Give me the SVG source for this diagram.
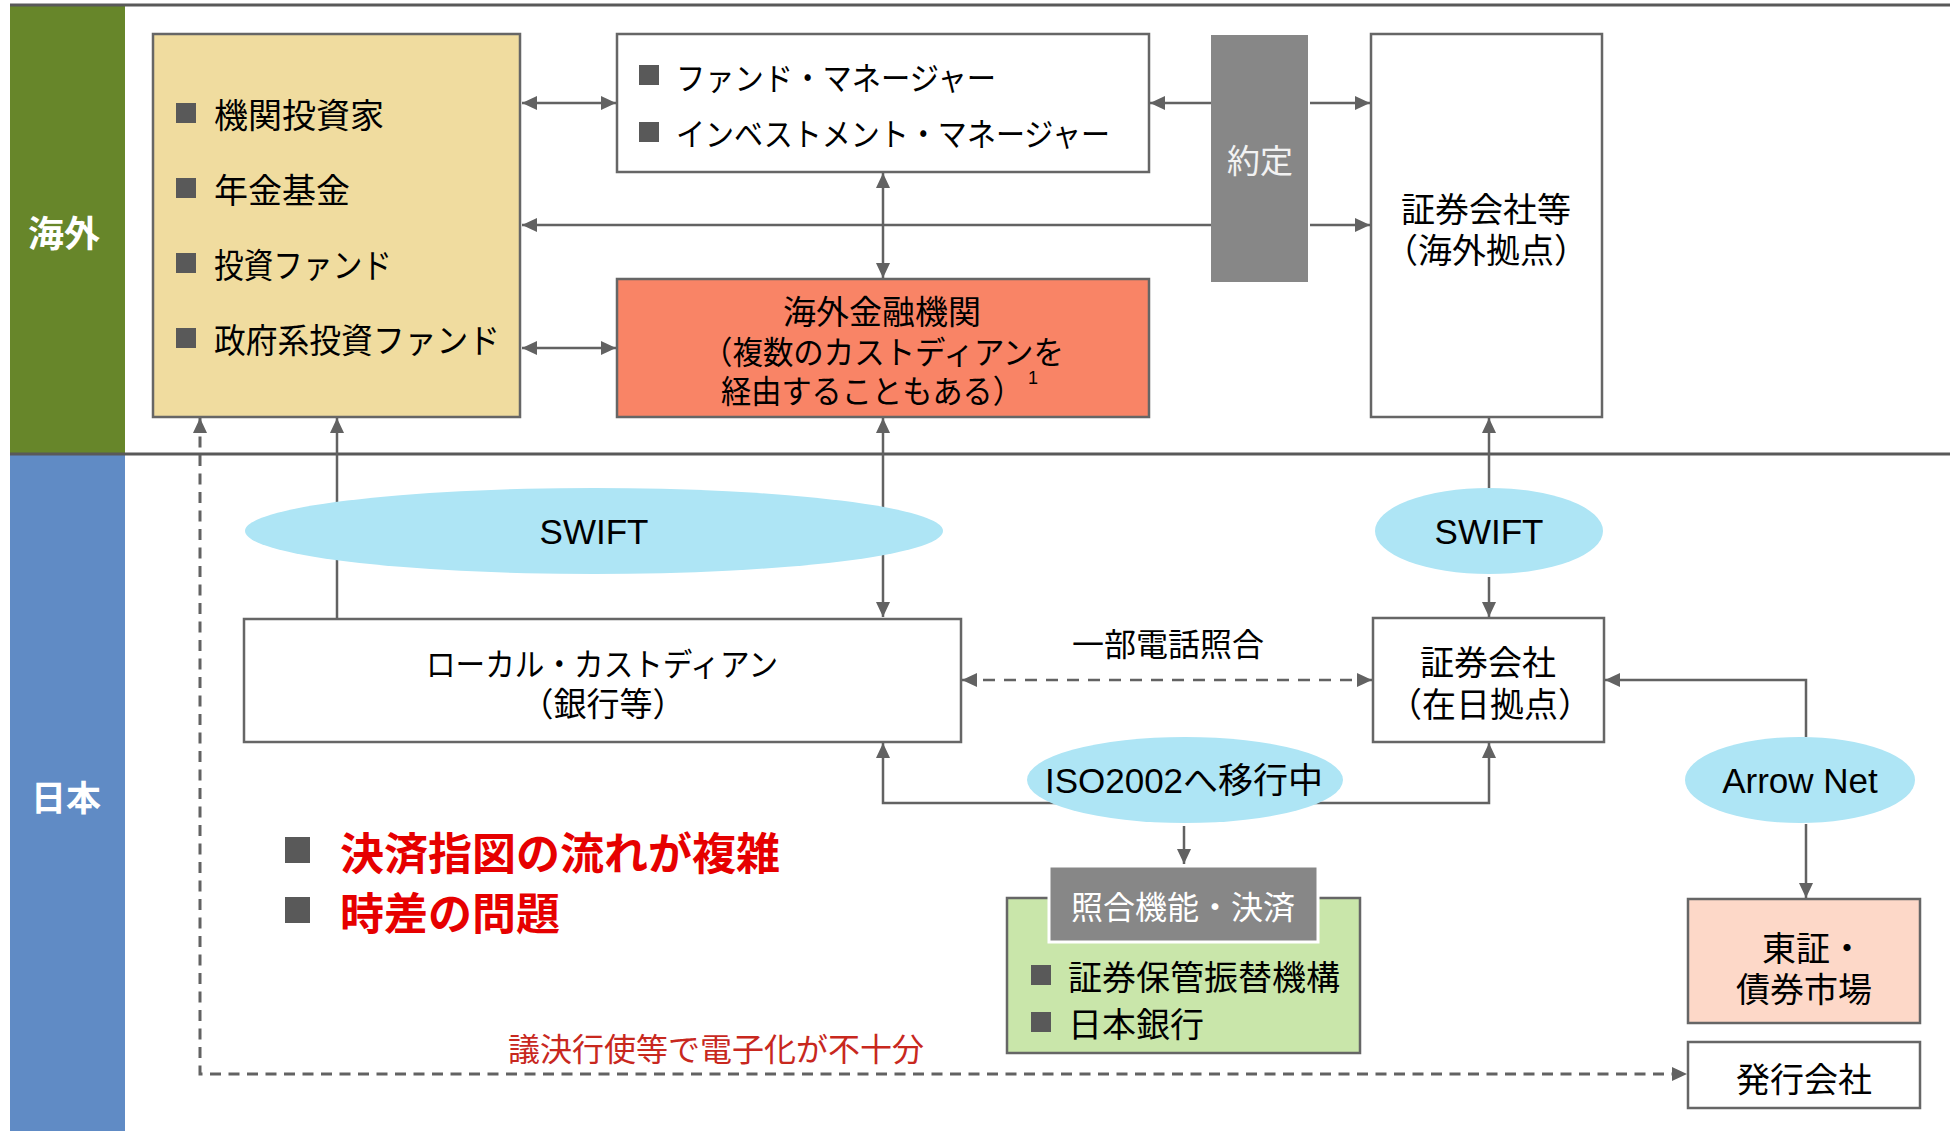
<svg xmlns="http://www.w3.org/2000/svg" width="1952" height="1131" viewBox="0 0 1952 1131">
<style>
  text { dominant-baseline: central; }
  .jp { font-family: "Noto Sans CJK JP", "Noto Sans", sans-serif; fill: #000; }
  .lat { font-family: "Liberation Sans", "Noto Sans CJK JP", sans-serif; fill: #000; }
  .box { stroke: #666; stroke-width: 2.5; }
  .bul { fill: #595959; }
  .conn { fill: none; stroke: #626262; stroke-width: 2.5; }
  .dash { stroke-dasharray: 11 7.5; stroke-width: 3; }
  .ell { fill: #aee5f5; }
  .band { fill: #fff; font-family: "Noto Sans CJK JP", sans-serif; font-weight: bold; }
  .sep { stroke: #595959; stroke-width: 3; }
</style>
<defs>
  <marker id="ah" viewBox="0 0 15 14" markerWidth="15" markerHeight="14" refX="15" refY="7" orient="auto-start-reverse" markerUnits="userSpaceOnUse">
    <path d="M0,0 L15,7 L0,14 z" fill="#626262"/>
  </marker>
</defs>
<rect x="0" y="0" width="1952" height="1131" fill="#fff"/>

<g id="bands">
  <rect x="10" y="6" width="115" height="448" fill="#67862a"/>
  <rect x="10" y="454" width="115" height="677" fill="#608bc5"/>
  <line class="sep" x1="10" y1="5" x2="1950" y2="5"/>
  <line class="sep" x1="10" y1="454" x2="1950" y2="454"/>
  <text class="band" x="64" y="231" font-size="36" text-anchor="middle">海外</text>
  <text class="band" x="66" y="795" font-size="35" text-anchor="middle">日本</text>
</g>

<g id="connectors">
  <path class="conn" d="M522,103 H616" marker-start="url(#ah)" marker-end="url(#ah)"/>
  <path class="conn" d="M522,348 H616" marker-start="url(#ah)" marker-end="url(#ah)"/>
  <path class="conn" d="M1211,225 H522" marker-end="url(#ah)"/>
  <path class="conn" d="M1211,103 H1150" marker-end="url(#ah)"/>
  <path class="conn" d="M1310,103 H1370" marker-end="url(#ah)"/>
  <path class="conn" d="M1310,225 H1370" marker-end="url(#ah)"/>
  <path class="conn" d="M883,173 V278" marker-start="url(#ah)" marker-end="url(#ah)"/>
  <path class="conn dash" d="M200,418 V1074 H1687" marker-start="url(#ah)" marker-end="url(#ah)"/>
  <path class="conn" d="M337,619 V418" marker-end="url(#ah)"/>
  <path class="conn" d="M883,418 V617" marker-start="url(#ah)" marker-end="url(#ah)"/>
  <path class="conn" d="M1489,531 V418" marker-end="url(#ah)"/>
  <path class="conn" d="M1489,577 V617" marker-end="url(#ah)"/>
  <path class="conn" d="M962,680 H1372" stroke-dasharray="12 9" stroke-width="3" marker-start="url(#ah)" marker-end="url(#ah)"/>
  <path class="conn" d="M1806,737 V680 H1605" marker-end="url(#ah)"/>
  <path class="conn" d="M1806,824 V898" marker-end="url(#ah)"/>
  <path class="conn" d="M883,743 V803 H1489 V743" marker-start="url(#ah)" marker-end="url(#ah)"/>
  <path class="conn" d="M1184,826 V864" marker-end="url(#ah)"/>
</g>

<g id="investors">
  <rect class="box" x="153" y="34" width="367" height="383" fill="#f0dc9f"/>
  <rect class="bul" x="176" y="103" width="20" height="20"/>
  <rect class="bul" x="176" y="178" width="20" height="20"/>
  <rect class="bul" x="176" y="253" width="20" height="20"/>
  <rect class="bul" x="176" y="328" width="20" height="20"/>
  <text class="jp" x="214" y="113" font-size="34">機関投資家</text>
  <text class="jp" x="214" y="188" font-size="34">年金基金</text>
  <text class="jp" x="214" y="263" font-size="34" textLength="178" lengthAdjust="spacingAndGlyphs">投資ファンド</text>
  <text class="jp" x="214" y="338" font-size="34" textLength="286" lengthAdjust="spacingAndGlyphs">政府系投資ファンド</text>
</g>

<g id="fund-manager">
  <rect class="box" x="617" y="34" width="532" height="138" fill="#fff"/>
  <rect class="bul" x="639" y="65" width="20" height="20"/>
  <rect class="bul" x="639" y="122" width="20" height="20"/>
  <text class="jp" x="676" y="76" font-size="32" textLength="320" lengthAdjust="spacingAndGlyphs">ファンド・マネージャー</text>
  <text class="jp" x="676" y="132" font-size="32" textLength="434" lengthAdjust="spacingAndGlyphs">インベストメント・マネージャー</text>
</g>

<g id="foreign-bank">
  <rect class="box" x="617" y="279" width="532" height="138" fill="#f98466"/>
  <text class="jp" x="882" y="310" font-size="33" text-anchor="middle">海外金融機関</text>
  <text class="jp" x="883" y="350" font-size="32" text-anchor="middle" textLength="362" lengthAdjust="spacingAndGlyphs">（複数のカストディアンを</text>
  <text class="jp" x="872" y="389" font-size="32" text-anchor="middle" textLength="302" lengthAdjust="spacingAndGlyphs">経由することもある）</text>
  <text class="lat" x="1033" y="378" font-size="18" text-anchor="middle">1</text>
</g>

<g id="trade">
  <rect x="1211" y="35" width="97" height="247" fill="#878787"/>
  <text class="jp" x="1260" y="159" font-size="33" text-anchor="middle" style="fill:#f2f2f2">約定</text>
</g>

<g id="broker-overseas">
  <rect class="box" x="1371" y="34" width="231" height="383" fill="#fff"/>
  <text class="jp" x="1486" y="207" font-size="34" text-anchor="middle">証券会社等</text>
  <text class="jp" x="1486" y="248" font-size="34" text-anchor="middle">（海外拠点）</text>
</g>

<g id="swift-1">
  <ellipse class="ell" cx="594" cy="531" rx="349" ry="43"/>
  <text class="lat" x="594" y="531" font-size="35" text-anchor="middle">SWIFT</text>
</g>

<g id="swift-2">
  <ellipse class="ell" cx="1489" cy="531" rx="114" ry="43"/>
  <text class="lat" x="1489" y="531" font-size="35" text-anchor="middle">SWIFT</text>
</g>

<g id="local-custodian">
  <rect class="box" x="244" y="619" width="717" height="123" fill="#fff"/>
  <text class="jp" x="602" y="662" font-size="32" text-anchor="middle" textLength="352" lengthAdjust="spacingAndGlyphs">ローカル・カストディアン</text>
  <text class="jp" x="603" y="702" font-size="33" text-anchor="middle">（銀行等）</text>
</g>

<g id="phone-label">
  <text class="jp" x="1168" y="642" font-size="32" text-anchor="middle">一部電話照合</text>
</g>

<g id="broker-japan">
  <rect class="box" x="1373" y="618" width="231" height="124" fill="#fff"/>
  <text class="jp" x="1488" y="660" font-size="34" text-anchor="middle">証券会社</text>
  <text class="jp" x="1490" y="702" font-size="34" text-anchor="middle">（在日拠点）</text>
</g>

<g id="iso">
  <ellipse class="ell" cx="1185" cy="780" rx="158" ry="43"/>
  <text class="lat" x="1184" y="780" font-size="35" text-anchor="middle">ISO2002へ移行中</text>
</g>

<g id="arrow-net">
  <ellipse class="ell" cx="1800" cy="780" rx="115" ry="43"/>
  <text class="lat" x="1800" y="780" font-size="35" text-anchor="middle">Arrow Net</text>
</g>

<g id="clearing">
  <rect class="box" x="1007" y="898" width="353" height="155" fill="#c9e6aa"/>
  <rect x="1049" y="866" width="269" height="76" fill="#878787" stroke="#fff" stroke-width="3"/>
  <text class="jp" x="1183" y="905" font-size="32" text-anchor="middle" style="fill:#fff">照合機能・決済</text>
  <rect class="bul" x="1031" y="965" width="20" height="20"/>
  <rect class="bul" x="1031" y="1012" width="20" height="20"/>
  <text class="jp" x="1068" y="975" font-size="34">証券保管振替機構</text>
  <text class="jp" x="1068" y="1022" font-size="34">日本銀行</text>
</g>

<g id="tse">
  <rect class="box" x="1688" y="899" width="232" height="124" fill="#fdd8c8"/>
  <text class="jp" x="1762" y="946" font-size="34">東証・</text>
  <text class="jp" x="1804" y="987" font-size="34" text-anchor="middle">債券市場</text>
</g>

<g id="issuer">
  <rect class="box" x="1688" y="1042" width="232" height="66" fill="#fff"/>
  <text class="jp" x="1804" y="1077" font-size="34" text-anchor="middle">発行会社</text>
</g>

<g id="issues">
  <rect class="bul" x="285" y="837" width="25" height="26"/>
  <rect class="bul" x="285" y="897" width="25" height="26"/>
  <text class="jp" x="340" y="851" font-size="44" font-weight="bold" style="fill:#e60000">決済指図の流れが複雑</text>
  <text class="jp" x="340" y="911" font-size="44" font-weight="bold" style="fill:#e60000">時差の問題</text>
</g>

<g id="voting-label">
  <text class="jp" x="716" y="1047" font-size="32" text-anchor="middle" style="fill:#c8281e">議決行使等で電子化が不十分</text>
</g>
</svg>
